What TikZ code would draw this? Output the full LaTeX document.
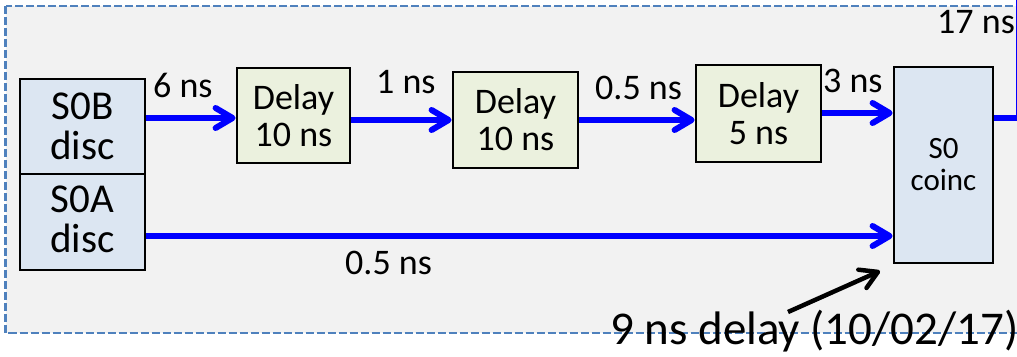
\documentclass[tikz,border=0pt]{standalone}
\usepackage{fontspec}
\setmainfont{Carlito}
\usetikzlibrary{arrows.meta}
\definecolor{bgray}{HTML}{F2F2F2}
\definecolor{frameblue}{RGB}{79,129,189}
\definecolor{discblue}{HTML}{DCE6F2}
\definecolor{delaygreen}{HTML}{EBF1DE}
\definecolor{sigblue}{RGB}{0,0,255}
\tikzset{
  discbox/.style={draw=black, line width=2.8pt, fill=discblue, align=center, inner sep=0pt,
    font=\fontsize{41}{40}\selectfont},
  delaybox/.style={draw=black, line width=2.8pt, fill=delaygreen, align=center, inner sep=0pt,
    font=\fontsize{36}{37}\selectfont},
  coincbox/.style={draw=black, line width=2.8pt, fill=discblue, align=center, inner sep=0pt,
    font=\fontsize{31}{32}\selectfont},
  lbl/.style={anchor=base west, inner sep=0pt, font=\fontsize{36}{40}\selectfont},
  sig/.style={draw=sigblue, line width=6pt,
    -{Straight Barb[length=17pt,width=20pt,line cap=round,line join=round]}},
  note/.style={draw=black, line width=4.5pt, -{Straight Barb[length=17pt,width=20pt,line cap=round,line join=round]}}
}
\begin{document}
\begin{tikzpicture}[x=1pt,y=-1pt]
\useasboundingbox (0,0) rectangle (1017,356);
\fill[white] (0,0) rectangle (1017,356);
\path[fill=bgray, draw=frameblue, line width=2.8pt, dash pattern=on 8pt off 3pt] (5.5,6) rectangle (1040,333);
% boxes
\node[discbox, minimum width=125pt, minimum height=95pt] (S0B) at (82.5,126.5) {S0B\\disc};
\node[discbox, minimum width=125pt, minimum height=96pt, text depth=0pt] (S0A) at (82.5,222) {\raisebox{5pt}{S0A}\\\raisebox{5pt}{disc}};
\node[delaybox, minimum width=113pt, minimum height=95pt] (D1) at (293.5,115.5) {Delay\\10 ns};
\node[delaybox, minimum width=125pt, minimum height=96pt] (D2) at (515.5,120) {Delay\\10 ns};
\node[delaybox, minimum width=125pt, minimum height=97pt] (D3) at (758.5,113.5) {Delay\\5 ns};
\node[coincbox, minimum width=99pt, minimum height=196pt] (C) at (943.5,165) {S0\\coinc};
% signal arrows
\draw[sig] (S0B.east |- 0,118) -- (D1.west |- 0,118);
\draw[sig] (D1.east |- 0,120) -- (D2.west |- 0,120);
\draw[sig] (D2.east |- 0,120) -- (D3.west |- 0,120);
\draw[sig] (D3.east |- 0,113) -- (C.west |- 0,113);
\draw[sig] (S0A.east |- 0,236) -- (C.west |- 0,236);
\coordinate (outcorner) at (1019,118);
\coordinate (outend) at (1019,-10);
\draw[draw=sigblue, line width=6pt] (C.east |- 0,118) -- (outcorner) -- (outend);
% labels
\node[lbl] (l6) at (153,97) {6 ns};
\node[lbl] (l1) at (376,93) {1 ns};
\node[lbl] (l05a) at (595,99) {0.5 ns};
\node[lbl] (l3) at (823,92) {3 ns};
\node[lbl] (l17) at (937,33) {17 ns};
\node[lbl] (l05b) at (345,274) {0.5 ns};
% note
\node[anchor=base west, inner sep=0pt, font=\fontsize{47}{50}\selectfont] (nt) at (610,344) {9 ns delay (10/02/17)};
\coordinate (ntail) at (788,312);
\coordinate (nhead) at (880,271);
\draw[note] (ntail) -- (nhead);
\end{tikzpicture}
\end{document}
